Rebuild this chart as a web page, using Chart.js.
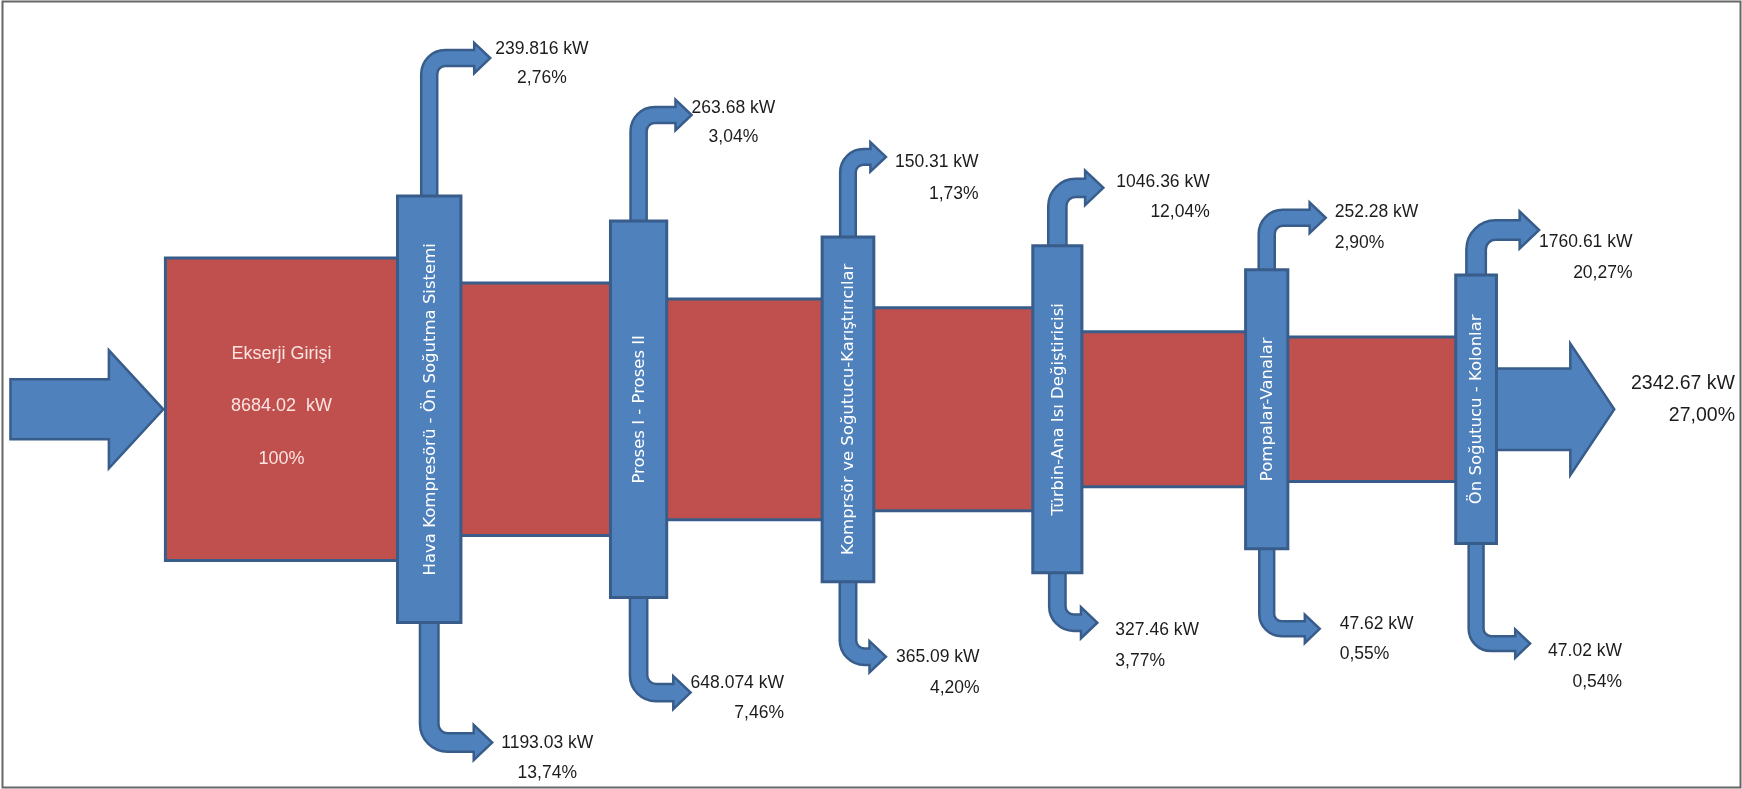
<!DOCTYPE html>
<html>
<head>
<meta charset="utf-8">
<title>Ekserji Akış Diyagramı</title>
<script src="https://cdn.jsdelivr.net/npm/chart.js@4.4.1/dist/chart.umd.min.js"></script>
<style>
    html, body { margin: 0; padding: 0; background: #ffffff; }
    canvas { display: block; }
</style>
</head>
<body>
<canvas id="exergyChart" width="1742" height="789"></canvas>
<script>
// ==================== DATA ====================

var stageNames = [
    "Hava Kompresörü - Ön Soğutma Sistemi",
    "Proses I - Proses II",
    "Komprsör ve Soğutucu-Karıştırıcılar",
    "Türbin-Ana Isı Değiştiricisi",
    "Pompalar-Vanalar",
    "Ön Soğutucu - Kolonlar"
];

var inputName = "Ekserji Girişi";
var inputKW = 8684.02;
var inputPct = 100;

// losses leaving each stage (upper and lower arrows)
var upperLossKW = [239.816, 263.68, 150.31, 1046.36, 252.28, 1760.61];
var upperLossPct = [2.76, 3.04, 1.73, 12.04, 2.90, 20.27];
var lowerLossKW = [1193.03, 648.074, 365.09, 327.46, 47.62, 47.02];
var lowerLossPct = [13.74, 7.46, 4.20, 3.77, 0.55, 0.54];

var outputKW = 2342.67;
var outputPct = 27.00;

// flow carried into each stage: input minus what was lost before it
var bandKW = [inputKW];
for (var n = 0; n < stageNames.length; n++) {
    bandKW.push(bandKW[n] - upperLossKW[n] - lowerLossKW[n]);
}

// ==================== STYLE ====================

var RED = "#c0504d";
var BLUE = "#4f81bd";
var EDGE = "#385d8a";
var INK = "#1c1c1c";

var LABEL_FONT = "17.5px 'Liberation Sans', Arial, sans-serif";
var OUTPUT_FONT = "19.5px 'Liberation Sans', Arial, sans-serif";
var BLOCK_FONT = "18px 'Liberation Sans', Arial, sans-serif";
var STAGE_FONT = "16.5px 'DejaVu Sans', Verdana, sans-serif";

var colPad = 62;                    // column reaches past its incoming band (px)
var inputStart = -1.26;             // left edge of the input block (x units)
var inputArrow = { tail: -2.0, base: -1.53, tip: -1.27, shaft: 30, head: 59 };
var outputArrow = { base: 5.45, tip: 5.66, headExtra: 25 };

// loss arrows: vertical run, horizontal run (px)
var upRise = [138, 106, 80, 58, 52, 45];
var downDrop = [120, 95, 75, 50, 80, 100];
var upReach = [61, 53, 38, 46, 59, 63];
var downReach = [63, 52, 38, 40, 53, 54];

// loss labels: gap after tip, line offsets, alignment of the % line
var upGap = [5, 0, 9, 13, 9, 0];
var upDy = [[-9, 20], [-7, 22], [5, 37], [-6, 24], [-6, 25], [12, 43]];
var upAlign = ["center", "center", "right", "right", "left", "right"];
var downGap = [9, 0, 10, 18, 20, 18];
var downDy = [[1, 31], [-9, 21], [0, 31], [7, 38], [-5, 25], [8, 39]];
var downAlign = ["center", "right", "right", "left", "left", "right"];

function pctText(p) {
    return p.toFixed(2).replace(".", ",") + "%";
}

function columnWidth(kw) {
    return 20 + 0.005 * kw;
}

function arrowWidth(kw) {
    return 14 + 0.13 * Math.sqrt(kw);
}

// ==================== SHAPES ====================

function boxPath(ctx, x0, y0, x1, y1) {
    ctx.beginPath();
    ctx.rect(x0, y0, x1 - x0, y1 - y0);
}

function paint(ctx, fill, lw) {
    ctx.fillStyle = fill;
    ctx.fill();
    ctx.lineWidth = lw;
    ctx.strokeStyle = EDGE;
    ctx.stroke();
}

// arrow leaving a column vertically (s = -1 up, +1 down), then bending right
function bentArrow(ctx, cx, y0, tx, ty, w, s) {
    var hh = 0.95 * w;
    var hb = tx - w;
    ctx.beginPath();
    ctx.moveTo(cx - w / 2, y0);
    ctx.arcTo(cx - w / 2, ty + s * w / 2, hb, ty + s * w / 2, 1.5 * w);
    ctx.lineTo(hb, ty + s * w / 2);
    ctx.lineTo(hb, ty + s * hh);
    ctx.lineTo(tx, ty);
    ctx.lineTo(hb, ty - s * hh);
    ctx.lineTo(hb, ty - s * w / 2);
    ctx.arcTo(cx + w / 2, ty - s * w / 2, cx + w / 2, y0, 0.5 * w);
    ctx.lineTo(cx + w / 2, y0);
    ctx.closePath();
    paint(ctx, BLUE, 2.5);
}

function straightArrow(ctx, x0, xb, tx, yc, sh, hh) {
    ctx.beginPath();
    ctx.moveTo(x0, yc - sh);
    ctx.lineTo(xb, yc - sh);
    ctx.lineTo(xb, yc - hh);
    ctx.lineTo(tx, yc);
    ctx.lineTo(xb, yc + hh);
    ctx.lineTo(xb, yc + sh);
    ctx.lineTo(x0, yc + sh);
    ctx.closePath();
    paint(ctx, BLUE, 2.5);
}

function lossLabel(ctx, tipX, tipY, kw, pct, gap, dy, align) {
    var t1 = kw + " kW";
    var t2 = pctText(pct);
    ctx.font = LABEL_FONT;
    ctx.fillStyle = INK;
    ctx.textAlign = "left";
    ctx.textBaseline = "middle";
    var x1 = tipX + gap;
    var w1 = ctx.measureText(t1).width;
    var w2 = ctx.measureText(t2).width;
    ctx.fillText(t1, x1, tipY + dy[0]);
    var x2 = x1;
    if (align === "right") x2 = x1 + w1 - w2;
    if (align === "center") x2 = x1 + (w1 - w2) / 2;
    ctx.fillText(t2, x2, tipY + dy[1]);
}

// ==================== PLUGIN ====================

var exergyFlow = {
    id: "exergyFlow",
    afterDraw: function(chart) {
        var ctx = chart.ctx;
        var xs = chart.scales.x;
        var ys = chart.scales.y;
        var yMid = ys.getPixelForValue(0);
        function half(kw) { return Math.abs(ys.getPixelForValue(kw / 2) - yMid); }
        function px(i) { return xs.getPixelForValue(i); }

        var last = stageNames.length - 1;
        ctx.save();
        ctx.lineJoin = "miter";

        // input block
        var h0 = half(inputKW);
        boxPath(ctx, px(inputStart), yMid - h0, px(0), yMid + h0);
        paint(ctx, RED, 3);

        // bands between stages
        for (var i = 1; i <= last; i++) {
            var h = half(bandKW[i]);
            boxPath(ctx, px(i - 1), yMid - h, px(i), yMid + h);
            paint(ctx, RED, 3);
        }

        // output arrow
        var oh = half(outputKW);
        straightArrow(ctx, px(last), px(outputArrow.base), px(outputArrow.tip), yMid,
            oh, oh + outputArrow.headExtra);

        // input arrow
        straightArrow(ctx, px(inputArrow.tail), px(inputArrow.base), px(inputArrow.tip), yMid,
            inputArrow.shaft, inputArrow.head);

        // loss arrows
        var cols = [];
        for (var k = 0; k <= last; k++) {
            var cx = px(k);
            var ch = half(bandKW[k]) + colPad;
            var top = yMid - ch, bottom = yMid + ch;
            cols.push({ cx: cx, top: top, bottom: bottom, w: columnWidth(bandKW[k]) });

            var wu = arrowWidth(upperLossKW[k]);
            var ut = { x: cx + upReach[k], y: top - upRise[k] };
            bentArrow(ctx, cx, top + 6, ut.x, ut.y, wu, -1);
            cols[k].up = ut;

            var wd = arrowWidth(lowerLossKW[k]);
            var dt = { x: cx + downReach[k], y: bottom + downDrop[k] };
            bentArrow(ctx, cx, bottom - 6, dt.x, dt.y, wd, 1);
            cols[k].down = dt;
        }

        // stage columns
        for (var c = 0; c <= last; c++) {
            var col = cols[c];
            boxPath(ctx, col.cx - col.w / 2, col.top, col.cx + col.w / 2, col.bottom);
            paint(ctx, BLUE, 3);

            ctx.save();
            ctx.translate(col.cx, (col.top + col.bottom) / 2);
            ctx.rotate(-Math.PI / 2);
            ctx.font = STAGE_FONT;
            ctx.fillStyle = "#ffffff";
            ctx.textAlign = "center";
            ctx.textBaseline = "middle";
            ctx.fillText(stageNames[c], 0, 1);
            ctx.restore();

            lossLabel(ctx, col.up.x, col.up.y, upperLossKW[c], upperLossPct[c], upGap[c], upDy[c], upAlign[c]);
            lossLabel(ctx, col.down.x, col.down.y, lowerLossKW[c], lowerLossPct[c], downGap[c], downDy[c], downAlign[c]);
        }

        // input block text
        var bx = (px(inputStart) + px(0) - cols[0].w / 2) / 2;
        ctx.font = BLOCK_FONT;
        ctx.fillStyle = "#fbe4e2";
        ctx.textAlign = "center";
        ctx.textBaseline = "middle";
        ctx.fillText(inputName, bx, yMid - 55);
        ctx.fillText(inputKW + "  kW", bx, yMid - 3);
        ctx.fillText(inputPct + "%", bx, yMid + 50);

        // output text
        var right = chart.width - 7;
        ctx.font = OUTPUT_FONT;
        ctx.fillStyle = INK;
        ctx.textAlign = "right";
        ctx.fillText(outputKW + " kW", right, yMid - 26);
        ctx.fillText(pctText(outputPct), right, yMid + 6);

        // frame
        ctx.lineWidth = 2;
        ctx.strokeStyle = "#666666";
        ctx.strokeRect(2.5, 1.5, chart.width - 4, chart.height - 3);
        ctx.restore();
    }
};

// ==================== CHART ====================

var chart = new Chart(document.getElementById("exergyChart"), {
    type: "scatter",
    data: { datasets: [] },
    options: {
        responsive: false,
        animation: false,
        devicePixelRatio: 1,
        events: [],
        layout: { padding: 0 },
        plugins: {
            legend: { display: false },
            tooltip: { enabled: false }
        },
        scales: {
            x: { type: "linear", min: -2.05, max: 6.27, display: false },
            y: { type: "linear", min: -10900, max: 11750, display: false }
        }
    },
    plugins: [exergyFlow]
});
</script>
</body>
</html>
